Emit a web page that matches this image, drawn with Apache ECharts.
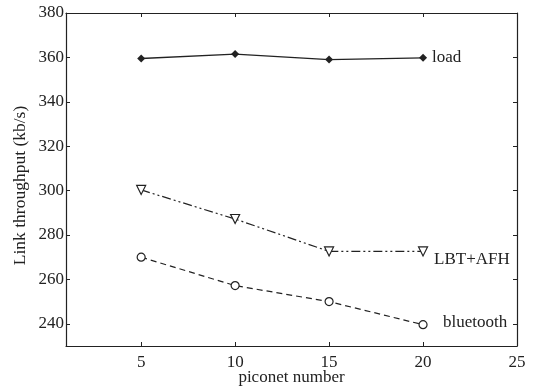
<!DOCTYPE html>
<html>
<head>
<meta charset="utf-8">
<script src="https://cdn.jsdelivr.net/npm/echarts@6/dist/echarts.min.js"></script>
<style>
  html, body { margin: 0; padding: 0; background: #fff; }
  #chart { width: 533px; height: 391px; }
</style>
</head>
<body>
<div id="chart"></div>
<script>
// piconet counts on the x axis
const piconets = [5, 10, 15, 20];
// throughput values (kb/s)
const loadVals = [359.5, 361.5, 359, 359.8];
const lbtAfhVals = [300.3, 287.2, 272.6, 272.6];
const bluetoothVals = [270, 257.2, 250, 239.6];
// tick labels
const xTicks = [5, 10, 15, 20, 25];
const yTicks = [240, 260, 280, 300, 320, 340, 360, 380];

const ink = '#222';
const font = 'Liberation Serif, Times New Roman, serif';

const pairs = (vals) => piconets.map((p, i) => [p, vals[i]]);

const xBase = {
    type: 'value',
    min: 1,
    max: 25,
    axisLine: { show: true, onZero: false, lineStyle: { color: ink, width: 1.2 } },
    axisTick: { inside: true, length: 4, customValues: xTicks, lineStyle: { color: ink } },
    splitLine: { show: false },
};
const yBase = {
    type: 'value',
    min: 230,
    max: 380,
    axisLine: { show: true, onZero: false, lineStyle: { color: ink, width: 1.2 } },
    axisTick: { inside: true, length: 4, customValues: yTicks, lineStyle: { color: ink } },
    splitLine: { show: false },
};

const chart = echarts.init(document.getElementById('chart'));
chart.setOption({
    animation: false,
    textStyle: { fontFamily: font },
    grid: { left: 66, right: 16, top: 13, bottom: 45, outerBoundsMode: 'none', containLabel: false },
    xAxis: [
        {
            ...xBase,
            position: 'bottom',
            name: 'piconet number',
            nameLocation: 'middle',
            nameGap: 23,
            nameMoveOverlap: false,
            nameTextStyle: { color: ink, fontSize: 17, fontFamily: font },
            axisLabel: { customValues: xTicks, color: ink, fontSize: 17, fontFamily: font, margin: 8 },
        },
        { ...xBase, position: 'top', axisLabel: { show: false } },
    ],
    yAxis: [
        {
            ...yBase,
            position: 'left',
            name: 'Link throughput (kb/s)',
            nameLocation: 'middle',
            nameGap: 37,
            nameMoveOverlap: false,
            nameTextStyle: { color: ink, fontSize: 17.5, fontFamily: font, padding: [0, 12, 0, 0] },
            axisLabel: { customValues: yTicks, color: ink, fontSize: 17, fontFamily: font, margin: 2 },
        },
        { ...yBase, position: 'right', axisLabel: { show: false } },
    ],
    series: [
        {
            name: 'load',
            type: 'line',
            data: pairs(loadVals),
            symbol: 'diamond',
            symbolSize: 8,
            itemStyle: { color: ink },
            lineStyle: { color: ink, width: 1.3, type: 'solid' },
            endLabel: { show: true, formatter: 'load', color: ink, fontSize: 17, fontFamily: font, offset: [1, 0] },
        },
        {
            name: 'LBT+AFH',
            type: 'line',
            data: pairs(lbtAfhVals),
            symbol: 'triangle',
            symbolRotate: 180,
            symbolSize: 9,
            itemStyle: { color: '#fff', borderColor: ink, borderWidth: 1.2 },
            lineStyle: { color: ink, width: 1.2, type: [9, 3, 2, 3, 2, 3] },
            endLabel: { show: true, formatter: 'LBT+AFH', color: ink, fontSize: 17, fontFamily: font, offset: [3, 8] },
        },
        {
            name: 'bluetooth',
            type: 'line',
            data: pairs(bluetoothVals),
            symbol: 'circle',
            symbolSize: 8,
            itemStyle: { color: '#fff', borderColor: ink, borderWidth: 1.2 },
            lineStyle: { color: ink, width: 1.2, type: [6, 4] },
            endLabel: { show: true, formatter: 'bluetooth', color: ink, fontSize: 17, fontFamily: font, offset: [12, -2] },
        },
    ],
});
</script>
</body>
</html>
